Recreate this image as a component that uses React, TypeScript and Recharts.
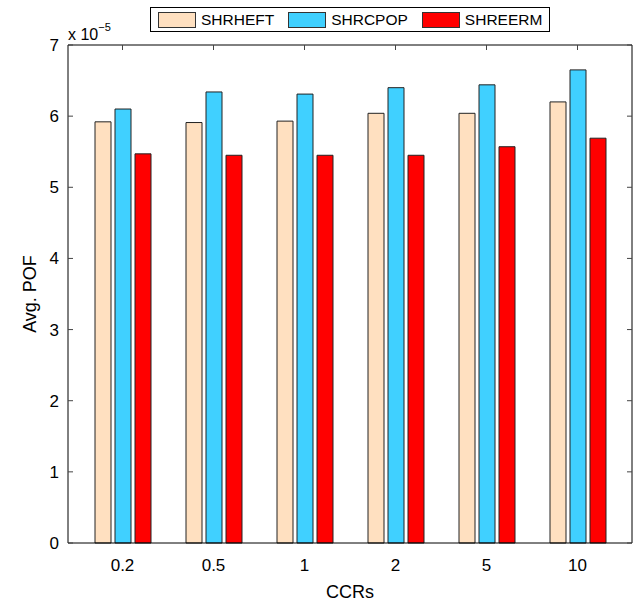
import React from "react";
import { BarChart, Bar, XAxis, YAxis, Legend } from "recharts";

const ccrs = ["0.2", "0.5", "1", "2", "5", "10"];
// values in units of 1e-5
const shrheft = [5.92, 5.91, 5.93, 6.04, 6.04, 6.2];
const shrcpop = [6.1, 6.34, 6.31, 6.4, 6.44, 6.65];
const shreerm = [5.47, 5.45, 5.45, 5.45, 5.57, 5.69];
const yTicks = [0, 1, 2, 3, 4, 5, 6, 7];

const seriesNames = ["SHRHEFT", "SHRCPOP", "SHREERM"];
const seriesColors = ["#FFE0C0", "#40D0FF", "#FF0000"];

const FONT = '"Liberation Sans", Arial, Helvetica, sans-serif';
const TICK_LEN = 5;
const TICK_COLOR = "#444";

const data = ccrs.map((c, i) => ({
  ccr: c,
  SHRHEFT: shrheft[i],
  SHRCPOP: shrcpop[i],
  SHREERM: shreerm[i],
}));

// MATLAB style inward ticks
const LeftTick = ({ x, y, payload }: any) => (
  <g>
    <line x1={x} x2={x + TICK_LEN} y1={y} y2={y} stroke={TICK_COLOR} />
    <text x={x - 9} y={y} dy="0.355em" textAnchor="end" fontSize={17} fontFamily={FONT} fill="#000">
      {payload.value}
    </text>
  </g>
);

const RightTick = ({ x, y }: any) => (
  <line x1={x - TICK_LEN} x2={x} y1={y} y2={y} stroke={TICK_COLOR} />
);

const TopTick = ({ x, y }: any) => (
  <line x1={x} x2={x} y1={y} y2={y + TICK_LEN} stroke={TICK_COLOR} />
);

const BottomTick = ({ x, y, payload }: any) => (
  <text x={x} y={y + 16} dy="0.71em" textAnchor="middle" fontSize={17} fontFamily={FONT} fill="#000">
    {payload.value}
  </text>
);

const LegendBox = () => (
  <div
    style={{
      display: "flex",
      alignItems: "center",
      border: "1px solid #000",
      height: 23,
      padding: "0 7px",
      background: "#fff",
      fontFamily: FONT,
      fontSize: 15.5,
      color: "#000",
      boxSizing: "content-box",
    }}
  >
    {seriesNames.map((name, i) => (
      <div key={name} style={{ display: "flex", alignItems: "center", marginRight: i < 2 ? 14 : 0 }}>
        <span
          style={{
            display: "inline-block",
            width: 36,
            height: 14,
            background: seriesColors[i],
            border: "1px solid #333",
            marginRight: 5,
          }}
        />
        <span>{name}</span>
      </div>
    ))}
  </div>
);

export default function App() {
  return (
    <div style={{ position: "absolute", left: 0, top: 0, width: 637, height: 604, background: "#fff" }}>
      <BarChart
        width={637}
        height={604}
        data={data}
        margin={{ top: 44, right: 4, bottom: 0, left: 0 }}
        barSize={16}
        barGap={4}
      >
        <XAxis
          dataKey="ccr"
          interval={0}
          height={61}
          padding={{ left: 9, right: 9 }}
          axisLine={{ stroke: "#000" }}
          tickLine={false}
          tickSize={0}
          tickMargin={0}
          tick={<BottomTick />}
          label={{
            content: ({ viewBox }: any) => (
              <text
                x={viewBox.x + viewBox.width / 2}
                y={viewBox.y + 55}
                textAnchor="middle"
                fontSize={18}
                fontFamily={FONT}
                fill="#000"
              >
                CCRs
              </text>
            ),
          }}
        />
        <XAxis
          xAxisId="top"
          dataKey="ccr"
          orientation="top"
          interval={0}
          height={1}
          padding={{ left: 9, right: 9 }}
          axisLine={{ stroke: "#000" }}
          tickLine={false}
          tickSize={0}
          tickMargin={0}
          tick={<TopTick />}
        />
        <YAxis
          domain={[0, 7]}
          ticks={yTicks}
          width={68}
          axisLine={{ stroke: "#000" }}
          tickLine={false}
          tickSize={0}
          tickMargin={0}
          tick={<LeftTick />}
          label={{
            content: ({ viewBox }: any) => (
              <g>
                <text
                  transform={`translate(${viewBox.x + 36}, ${viewBox.y + viewBox.height / 2}) rotate(-90)`}
                  textAnchor="middle"
                  fontSize={18}
                  fontFamily={FONT}
                  fill="#000"
                >
                  Avg. POF
                </text>
                <text x={viewBox.x + viewBox.width} y={viewBox.y - 5} fontSize={16} fontFamily={FONT} fill="#000">
                  x 10
                  <tspan dy={-9} fontSize={11}>
                    −5
                  </tspan>
                </text>
              </g>
            ),
          }}
        />
        <YAxis
          yAxisId="right"
          orientation="right"
          type="number"
          domain={[0, 7]}
          allowDataOverflow
          ticks={yTicks}
          width={1}
          axisLine={{ stroke: "#000" }}
          tickLine={false}
          tickSize={0}
          tickMargin={0}
          tick={<RightTick />}
        />
        <Legend
          verticalAlign="middle"
          align="center"
          wrapperStyle={{ top: 7, left: 150, width: "auto" }}
          content={() => <LegendBox />}
        />
        {seriesNames.map((name, i) => (
          <Bar
            key={name}
            dataKey={name}
            fill={seriesColors[i]}
            stroke="#222"
            strokeWidth={1}
            isAnimationActive={false}
          />
        ))}
      </BarChart>
    </div>
  );
}
